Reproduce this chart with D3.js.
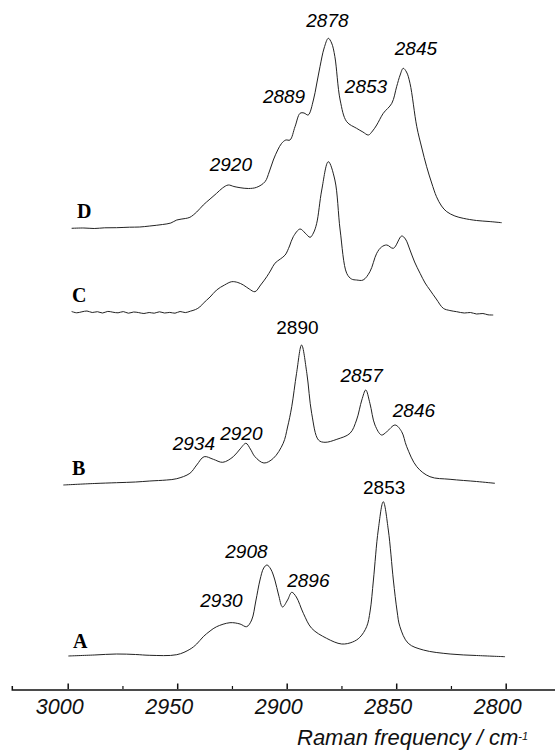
<!DOCTYPE html>
<html>
<head>
<meta charset="utf-8">
<script src="https://cdn.jsdelivr.net/npm/d3@7/dist/d3.min.js"></script>
<style>
body { margin: 0; background: #fff; }
</style>
</head>
<body>
<svg id="chart" width="555" height="751"></svg>
<script>
// Raman shift (cm-1) and intensity (a.u.), one pair per spectrum
var wnA = [2999.7, 2987.9, 2977.7, 2969.0, 2962.5, 2950.2, 2944.2, 2941.1, 2938.1, 2935.0,
           2932.0, 2925.9, 2921.3, 2918.3, 2916.0, 2914.1, 2912.2, 2910.5, 2909.0, 2907.3,
           2905.4, 2903.7, 2901.9, 2899.6, 2897.7, 2895.6, 2892.4, 2888.6, 2881.8, 2874.9,
           2869.9, 2866.6, 2863.5, 2861.9, 2860.4, 2858.2, 2855.9, 2853.6, 2851.3, 2849.6,
           2848.3, 2844.5, 2837.6, 2825.4, 2813.3, 2800.3];
var intA = [0, 0.1, 0.2, 0.15, 0.07, 0.13, 0.67, 1.2, 1.93, 2.5,
            2.93, 3.33, 3.2, 2.93, 3.6, 5.5, 7.6, 8.8, 9.1, 8.7,
            7.6, 6.1, 4.9, 5.6, 6.37, 5.9, 4.27, 2.77, 1.77, 1.2,
            1.4, 1.87, 2.93, 4.5, 7.6, 12.6, 15.43, 12.6, 7.6, 4.5,
            2.93, 1.27, 0.6, 0.2, 0.05, -0.07];

var wnB = [3002.0, 2987.9, 2977.7, 2969.0, 2962.5, 2954.8, 2950.2, 2944.2, 2941.1, 2937.7,
           2933.5, 2929.2, 2924.4, 2921.3, 2918.6, 2916.6, 2914.5, 2910.4, 2906.1, 2901.6,
           2899.6, 2897.7, 2895.5, 2893.2, 2890.8, 2888.6, 2885.5, 2882.5, 2877.1, 2871.1,
           2868.1, 2865.7, 2863.9, 2862.0, 2859.7, 2856.7, 2854.3, 2850.5, 2847.5, 2845.2,
           2840.6, 2834.6, 2825.4, 2813.3, 2804.9];
var intB = [0, 0.15, 0.23, 0.3, 0.4, 0.5, 0.63, 1.17, 2.0, 2.83,
            2.57, 2.27, 2.83, 3.6, 4.17, 3.6, 2.83, 2.2, 2.67, 4.17,
            5.8, 7.83, 11.17, 14.0, 11.17, 7.17, 4.5, 4.27, 4.57, 5.17,
            6.5, 8.5, 9.5, 8.17, 6.0, 5.0, 5.33, 6.0, 5.33, 3.83,
            1.83, 0.83, 0.57, 0.35, 0.17];

var wnC = [2998.2, 2995.9, 2993.5, 2991.2, 2988.8, 2986.4, 2984.1, 2981.7, 2979.4, 2977.0,
           2974.6, 2972.3, 2969.9, 2967.6, 2965.2, 2962.8, 2960.5, 2958.1, 2955.8, 2953.4,
           2951.0, 2948.7, 2946.3, 2944.0, 2941.6, 2939.7, 2938.1, 2935.0, 2932.0, 2928.4,
           2925.1, 2922.3, 2919.8, 2917.1, 2914.5, 2911.9, 2909.1, 2907.2, 2905.4, 2902.9,
           2900.7, 2898.7, 2897.0, 2893.9, 2891.6, 2889.3, 2887.8, 2886.3, 2884.0, 2881.0,
           2878.0, 2875.6, 2872.6, 2870.4, 2868.1, 2865.1, 2862.0, 2858.9, 2856.7, 2854.3,
           2851.3, 2847.5, 2845.8, 2843.7, 2841.6, 2839.1, 2836.8, 2834.6, 2831.7, 2828.5,
           2825.5, 2822.4, 2818.9, 2816.1, 2813.3, 2810.4, 2808.1, 2805.7];
var intC = [0.05, -0.08, 0.02, 0.1, -0.05, 0.03, -0.1, 0.06, -0.02, -0.08,
            0.04, -0.12, 0.0, -0.06, -0.15, -0.05, -0.12, 0.02, -0.1, -0.04,
            -0.12, 0.05, -0.06, 0.08, 0.25, 0.5, 0.87, 1.5, 2.2, 2.7,
            3.03, 2.95, 2.7, 2.3, 2.03, 2.7, 3.53, 4.2, 4.87, 5.3,
            5.7, 6.6, 7.53, 8.3, 7.9, 7.47, 7.9, 8.87, 12.2, 15.03,
            13.2, 8.2, 3.87, 3.3, 3.2, 3.2, 4.03, 5.87, 6.5, 6.7,
            6.37, 7.6, 7.3, 6.2, 5.0, 3.87, 2.9, 2.2, 1.3, 0.37,
            0.15, 0.03, -0.1, -0.05, -0.2, -0.15, -0.28, -0.3];

var wnD = [2998.2, 2992.6, 2987.9, 2983.1, 2977.7, 2971.8, 2967.1, 2962.5, 2956.7, 2952.9,
           2950.2, 2946.3, 2944.2, 2941.1, 2938.1, 2935.0, 2932.0, 2929.3, 2926.7, 2924.1,
           2921.3, 2917.5, 2913.7, 2909.9, 2908.0, 2906.1, 2904.1, 2902.3, 2900.4, 2898.5,
           2896.2, 2893.9, 2892.1, 2890.2, 2887.8, 2886.4, 2884.8, 2882.9, 2881.0, 2879.5,
           2878.0, 2875.6, 2872.6, 2868.1, 2865.2, 2862.7, 2860.8, 2858.9, 2855.9, 2852.0,
           2849.8, 2848.2, 2846.8, 2845.3, 2843.7, 2840.6, 2838.3, 2836.1, 2833.8, 2831.6,
           2829.3, 2826.9, 2823.2, 2819.4, 2813.3, 2807.6, 2801.8];
var intD = [-0.03, 0.0, -0.05, 0.02, 0.03, 0.08, 0.1, 0.2, 0.35, 0.5,
            0.8, 0.95, 1.07, 1.6, 2.3, 2.9, 3.47, 4.0, 4.3, 4.15,
            4.03, 3.95, 4.07, 4.63, 5.6, 6.8, 7.8, 8.47, 8.8, 8.8,
            10.13, 11.47, 11.5, 11.3, 12.8, 14.3, 16.13, 18.0, 18.97, 18.5,
            17.13, 12.8, 10.63, 9.97, 9.6, 9.3, 9.7, 10.3, 11.47, 12.47,
            14.13, 15.3, 15.97, 15.6, 14.47, 10.13, 8.0, 6.13, 4.5, 3.13,
            2.2, 1.63, 1.2, 0.97, 0.75, 0.65, 0.53];

// vertical offsets of the stacked spectra and their letters
var traceNames = ["A", "B", "C", "D"];
var traceOffsets = [3.3, 20.4, 37.7, 46.1];
var letterPos = [[2997.6, 4.1], [2998.0, 21.4], [2998.0, 38.73], [2995.8, 47.1]];

// peak annotations: text, position (cm-1, a.u.), italic or not
var peakText = ["2930", "2908", "2896", "2853",
                "2934", "2920", "2890", "2857", "2846",
                "2920", "2889", "2878", "2853", "2845"];
var peakWn = [2929.8, 2918.4, 2890.1, 2855.5,
              2942.4, 2920.7, 2895.1, 2865.8, 2841.9,
              2925.5, 2901.2, 2881.4, 2863.8, 2841.0];
var peakY = [8.23, 13.1, 10.23, 19.5,
             23.9, 24.9, 35.47, 30.73, 27.23,
             51.83, 58.57, 66.23, 59.57, 63.4];
var peakItalic = [true, true, true, false,
                  true, true, false, true, true,
                  true, true, true, true, true];

var majorTicks = [3000, 2950, 2900, 2850, 2800];
var minorTicks = [2975, 2925, 2875, 2825];

var svg = d3.select("#chart");
var axisY = 689;

var x = d3.scaleLinear()
    .domain([3000, 2800])
    .range([67.7, 505.7]);

var y = d3.scaleLinear()
    .domain([0, 68.9])
    .range([axisY, 0]);

var line = d3.line()
    .x(function(d) { return x(d.w); })
    .y(function(d) { return y(d.v); })
    .curve(d3.curveCatmullRom.alpha(0.5));

var spectra = [[wnA, intA], [wnB, intB], [wnC, intC], [wnD, intD]];

for (var k = 0; k < spectra.length; k++) {
    var wn = spectra[k][0], it = spectra[k][1];
    var pts = wn.map(function(w, i) { return {w: w, v: it[i] + traceOffsets[k]}; });

    svg.append("path")
        .datum(pts)
        .attr("fill", "none")
        .attr("stroke", "#222")
        .attr("stroke-width", 1)
        .attr("stroke-linejoin", "round")
        .attr("d", line);

    svg.append("text")
        .attr("x", x(letterPos[k][0]))
        .attr("y", y(letterPos[k][1]))
        .style("font-family", "'Liberation Serif', 'Times New Roman', serif")
        .style("font-weight", "bold")
        .style("font-size", "20px")
        .text(traceNames[k]);
}

svg.selectAll(".peak")
    .data(peakText)
    .enter()
    .append("text")
    .classed("peak", true)
    .attr("x", function(d, i) { return x(peakWn[i]); })
    .attr("y", function(d, i) { return y(peakY[i]); })
    .attr("text-anchor", "middle")
    .style("font-family", "'Liberation Sans', Arial, sans-serif")
    .style("font-size", "19px")
    .style("font-style", function(d, i) { return peakItalic[i] ? "italic" : "normal"; })
    .text(function(d) { return d; });

// x axis: own baseline, major ticks with labels, minor ticks without
var axisG = svg.append("g")
    .attr("transform", "translate(0," + axisY + ")");

axisG.append("path")
    .attr("d", "M" + x(3025.3) + ",-3V1H555")
    .attr("fill", "none")
    .attr("stroke", "#111")
    .attr("stroke-width", 1.5);

var xAxis = d3.axisBottom(x)
    .tickValues(majorTicks)
    .tickSize(-5.5)
    .tickSizeOuter(0)
    .tickFormat(d3.format("d"));

var majorG = axisG.append("g").call(xAxis);
majorG.select(".domain").remove();
majorG.selectAll("line").attr("stroke", "#111").attr("stroke-width", 1.5);
majorG.selectAll("text")
    .attr("y", 24.5)
    .attr("dy", 0)
    .attr("dx", -8.5)
    .attr("fill", "#111")
    .style("font-family", "'Liberation Sans', Arial, sans-serif")
    .style("font-style", "italic")
    .style("font-size", "21.5px");

var minorG = axisG.append("g")
    .call(d3.axisBottom(x).tickValues(minorTicks).tickSize(-3).tickSizeOuter(0).tickFormat(""));
minorG.select(".domain").remove();
minorG.selectAll("line").attr("stroke", "#111").attr("stroke-width", 1.2);

var title = svg.append("text")
    .attr("x", 297)
    .attr("y", 745)
    .attr("fill", "#111")
    .style("font-family", "'Liberation Sans', Arial, sans-serif")
    .style("font-style", "italic")
    .style("font-size", "22px")
    .text("Raman frequency / cm");

title.append("tspan")
    .attr("dy", -5)
    .style("font-size", "11px")
    .text("-1");
</script>
</body>
</html>
